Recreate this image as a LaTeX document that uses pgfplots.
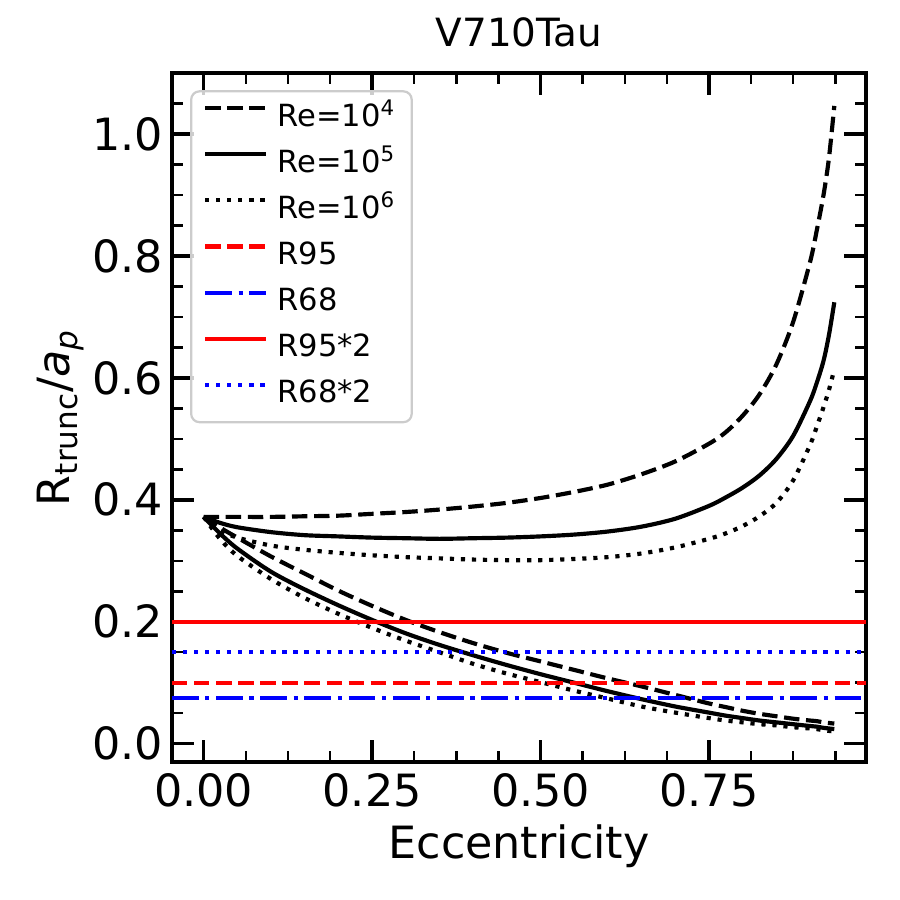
\documentclass[border=0pt]{standalone}
\usepackage{fontspec}
\setmainfont{DejaVu Sans}
\usepackage{pgfplots}
\usepackage{pgfplotstable}
\pgfplotsset{compat=1.18}

\pgfplotstableread{
e     U4    U5    U6    L4    L5    L6
0.000 0.372 0.372 0.372 0.372 0.372 0.372
0.025 0.372 0.362 0.350 0.354 0.344 0.335
0.050 0.372 0.355 0.338 0.338 0.320 0.308
0.100 0.372 0.347 0.325 0.307 0.282 0.270
0.150 0.373 0.342 0.318 0.279 0.253 0.239
0.200 0.374 0.340 0.313 0.251 0.227 0.213
0.250 0.377 0.338 0.309 0.226 0.203 0.190
0.300 0.380 0.337 0.306 0.203 0.181 0.169
0.350 0.384 0.336 0.304 0.183 0.162 0.150
0.400 0.389 0.337 0.302 0.165 0.145 0.131
0.450 0.395 0.338 0.301 0.149 0.129 0.115
0.500 0.403 0.340 0.301 0.135 0.114 0.101
0.550 0.413 0.343 0.303 0.121 0.100 0.087
0.600 0.425 0.348 0.306 0.107 0.086 0.074
0.650 0.442 0.356 0.312 0.094 0.073 0.061
0.700 0.463 0.369 0.322 0.080 0.061 0.051
0.750 0.492 0.390 0.336 0.066 0.051 0.042
0.775 0.511 0.404 0.345 0.060 0.046 0.038
0.800 0.538 0.420 0.357 0.054 0.042 0.035
0.825 0.573 0.440 0.373 0.049 0.038 0.032
0.850 0.622 0.467 0.395 0.045 0.035 0.030
0.875 0.692 0.505 0.432 0.041 0.032 0.027
0.900 0.790 0.562 0.490 0.038 0.029 0.025
0.910 0.842 0.592 0.520 0.037 0.028 0.024
0.920 0.900 0.628 0.552 0.035 0.026 0.022
0.928 0.960 0.670 0.580 0.034 0.025 0.021
0.936 1.046 0.724 0.614 0.033 0.024 0.020
}\curves

\begin{document}
\begin{tikzpicture}
\useasboundingbox (-61.92pt,-49.68pt) rectangle (262.08pt,274.32pt);
\begin{axis}[
  at={(0,0)}, anchor=south west,
  scale only axis, width=249.84pt, height=248.04pt,
  xmin=-0.047, xmax=0.983, ymin=-0.03, ymax=1.10,
  xtick={0,0.25,0.5,0.75}, xticklabels={0.00,0.25,0.50,0.75},
  ytick={0,0.2,0.4,0.6,0.8,1.0}, yticklabels={0.0,0.2,0.4,0.6,0.8,1.0},
  minor xtick={0.0625,0.125,0.1875,0.3125,0.375,0.4375,0.5625,0.625,0.6875,0.8125,0.875,0.9375},
  minor ytick={0.05,0.1,0.15,0.25,0.3,0.35,0.45,0.5,0.55,0.65,0.7,0.75,0.85,0.9,0.95,1.05},
  tick align=inside,
  major tick length=8pt, minor tick length=4pt,
  every major tick/.append style={line width=1.25pt, black},
  every minor tick/.append style={line width=0.9pt, black},
  axis line style={line width=1.25pt},
  ticklabel style={font=\fontsize{16}{19}\selectfont},
  xticklabel style={anchor=base, inner sep=0pt, yshift=-15.84pt},
  yticklabel style={anchor=east, inner sep=0pt, xshift=-3.1pt},
  title={V710Tau},
  title style={font=\fontsize{14}{17}\selectfont, at={(axis description cs:0.5,1)}, anchor=base, yshift=3.7pt},
  xlabel={Eccentricity},
  xlabel style={font=\fontsize{16}{19}\selectfont, at={(axis description cs:0.5,-0.1394)}, anchor=base},
  ylabel={R\textsubscript{trunc}/\textit{a}\textsubscript{\textit{p}}},
  ylabel style={font=\fontsize{16}{19}\selectfont, at={(axis description cs:-0.147,0.5)}, anchor=base},
  legend cell align=left,
  legend style={at={(axis description cs:0.026,0.975)}, anchor=north west,
    draw=black!20, line width=0.8pt, rounded corners=3pt,
    fill=white, fill opacity=0.8, draw opacity=1, text opacity=1,
    font=\fontsize{11}{13}\selectfont,
    inner xsep=4.3pt, inner ysep=4.35pt,
    row sep=5.8pt,
    nodes={inner sep=0pt, text height=8.2pt, text depth=2.6pt},
    /tikz/every odd column/.append style={column sep=3.3pt},
    /tikz/every even column/.append style={text width=44pt}},
  legend image code/.code={\draw[#1] (0pt,3.7pt) -- (22pt,3.7pt);},
  every axis plot/.append style={line join=round},
]
\addplot[black, line width=1.5pt, smooth, dash pattern=on 5.55pt off 2.4pt] table[x=e,y=U4] {\curves};
\addlegendentry{Re=10\textsuperscript{4}}
\addplot[black, line width=1.5pt, smooth, dash pattern=on 5.55pt off 2.4pt, forget plot] table[x=e,y=L4] {\curves};
\addplot[black, line width=1.5pt, smooth] table[x=e,y=U5] {\curves};
\addlegendentry{Re=10\textsuperscript{5}}
\addplot[black, line width=1.5pt, smooth, forget plot] table[x=e,y=L5] {\curves};
\addplot[black, line width=1.5pt, smooth, dash pattern=on 1.5pt off 2.475pt] table[x=e,y=U6] {\curves};
\addlegendentry{Re=10\textsuperscript{6}}
\addplot[black, line width=1.5pt, smooth, dash pattern=on 1.5pt off 2.475pt, forget plot] table[x=e,y=L6] {\curves};
\addplot[red, line width=1.5pt, dash pattern=on 5.55pt off 2.4pt] coordinates {(-0.047,0.1) (0.983,0.1)};
\addlegendentry{R95}
\addplot[blue, line width=1.5pt, dash pattern=on 9.6pt off 2.4pt on 1.5pt off 2.4pt] coordinates {(-0.047,0.075) (0.983,0.075)};
\addlegendentry{R68}
\addplot[red, line width=1.5pt] coordinates {(-0.047,0.2) (0.983,0.2)};
\addlegendentry{R95*2}
\addplot[blue, line width=1.5pt, dash pattern=on 1.5pt off 2.475pt] coordinates {(-0.047,0.15) (0.983,0.15)};
\addlegendentry{R68*2}
\end{axis}
\end{tikzpicture}
\end{document}
